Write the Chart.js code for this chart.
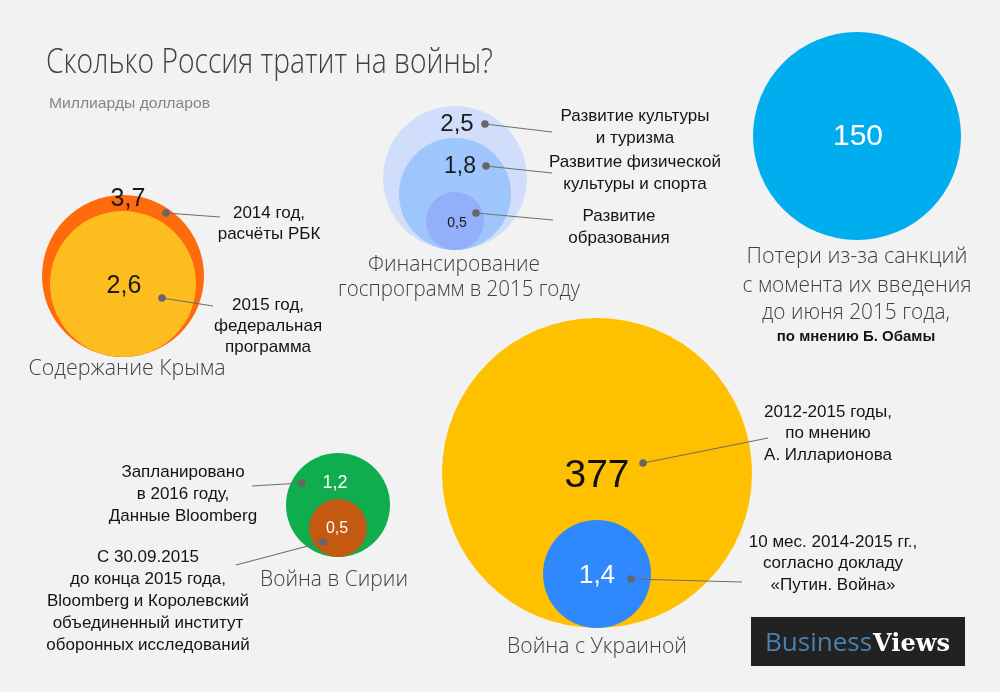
<!DOCTYPE html>
<html>
<head>
<meta charset="utf-8">
<script src="https://cdn.jsdelivr.net/npm/chart.js@4/dist/chart.umd.min.js"></script>
<style>
  html, body { margin: 0; padding: 0; background: #f2f2f2; }
  #wrap { width: 1000px; height: 692px; }
</style>
</head>
<body>
<div id="wrap"><canvas id="chart" width="1000" height="692"></canvas></div>
<script>
// billions of dollars
const crimeaValues = [3.7, 2.6];
const crimeaNotes = [["2014 год,", "расчёты РБК"], ["2015 год,", "федеральная", "программа"]];

const programValues = [2.5, 1.8, 0.5];
const programNotes = [["Развитие культуры", "и туризма"], ["Развитие физической", "культуры и спорта"], ["Развитие", "образования"]];

const sanctionsValues = [150];

const syriaValues = [1.2, 0.5];
const syriaNotes = [["Запланировано", "в 2016 году,", "Данные Bloomberg"],
  ["С 30.09.2015", "до конца 2015 года,", "Bloomberg и Королевский", "объединенный институт", "оборонных исследований"]];

const ukraineValues = [377, 1.4];
const ukraineNotes = [["2012-2015 годы,", "по мнению", "А. Илларионова"], ["10 мес. 2014-2015 гг.,", "согласно докладу", "«Путин. Война»"]];

const titleText = "Сколько Россия тратит на войны?";
const subtitleText = "Миллиарды долларов";

const lightFont = '"Open Sans"';
const labelFont = '"Liberation Sans", Arial';

// layout of each group: anchor (centre x, common bottom), radii, colours, label placement
const groups = [
  {
    values: crimeaValues, notes: crimeaNotes, cx: 123, bottom: 357, radii: [81, 73],
    colors: ["#ff6a0c", "#fdbd1f"], valueColor: ["#1a1a1a", "#1a1a1a"], valueSize: [25, 25],
    valueOff: [[5, -77], [1, 2]],
    dots: [[43, -63], [39, 14]], ends: [[220, 217], [213, 306]],
    noteAt: [[269, 213], [268, 305]], lh: 21,
    title: [["Содержание Крыма", 127, 369, 197]]
  },
  {
    values: programValues, notes: programNotes, cx: 455, bottom: 250, radii: [72, 56, 29],
    colors: ["#d0defc", "#9fc5fd", "#93aefb"], valueColor: ["#1a1a1a", "#1a1a1a", "#1a1a1a"], valueSize: [24, 23, 14],
    valueOff: [[2, -54], [5, -27], [2, 2]],
    dots: [[30, -54], [31, -28], [21, -8]], ends: [[552, 132], [552, 173], [553, 220]],
    noteAt: [[635, 116], [635, 162], [619, 216]], lh: 22,
    title: [["Финансирование", 454, 265, 172], ["госпрограмм в 2015 году", 459, 290, 242]]
  },
  {
    values: sanctionsValues, notes: [null], cx: 857, bottom: 240, radii: [104],
    colors: ["#00adee"], valueColor: ["#ffffff"], valueSize: [30],
    valueOff: [[1, 1]], dots: [null], ends: [null], noteAt: [null], lh: 0,
    title: [["Потери из-за санкций", 857, 257, 221], ["с момента их введения", 857, 286, 229], ["до июня 2015 года,", 856, 313, 188]]
  },
  {
    values: syriaValues, notes: syriaNotes, cx: 338, bottom: 557, radii: [52, 29],
    colors: ["#10ad4f", "#c45911"], valueColor: ["#ffffff", "#ffffff"], valueSize: [18, 16],
    valueOff: [[-3, -22], [-1, 1]],
    dots: [[-36, -22], [-15, 14]], ends: [[252, 486], [236, 565]],
    noteAt: [[183, 472], [148, 557]], lh: 22,
    title: [["Война в Сирии", 334, 580, 148]]
  },
  {
    values: ukraineValues, notes: ukraineNotes, cx: 597, bottom: 628, radii: [155, 54],
    colors: ["#ffc000", "#2f89fd"], valueColor: ["#111111", "#ffffff"], valueSize: [39, 26],
    valueOff: [[0, 3], [0, 2]],
    dots: [[46, -10], [34, 5]], ends: [[768, 438], [742, 582]],
    noteAt: [[828, 412], [833, 542]], lh: 21.5,
    title: [["Война с Украиной", 597, 647, 180]]
  }
];

const points = [];
const colors = [];
groups.forEach((g, gi) => {
  g.values.forEach((v, j) => {
    points.push({ x: g.cx, y: g.bottom - g.radii[j], r: g.radii[j], v: v, g: gi, j: j });
    colors.push(g.colors[j]);
  });
});

function fitText(ctx, text, x, y, width, align) {
  const w = ctx.measureText(text).width;
  const s = width ? width / w : 1;
  ctx.save();
  ctx.translate(x, y);
  ctx.scale(s, 1);
  ctx.textAlign = align || "center";
  ctx.fillText(text, 0, 0);
  ctx.restore();
}

const annotations = {
  id: "annotations",
  beforeDraw(chart) {
    const ctx = chart.ctx;
    ctx.save();
    ctx.fillStyle = "#f2f2f2";
    ctx.fillRect(0, 0, chart.width, chart.height);
    ctx.restore();
  },
  afterDatasetsDraw(chart) {
    const ctx = chart.ctx;
    const els = chart.getDatasetMeta(0).data;
    ctx.save();

    // heading
    ctx.fillStyle = "#404040";
    ctx.textBaseline = "alphabetic";
    ctx.font = "300 35px " + lightFont;
    fitText(ctx, titleText, 46, 73, 447, "left");
    ctx.fillStyle = "#858585";
    ctx.font = "15px " + labelFont;
    fitText(ctx, subtitleText, 49, 108, 161, "left");

    ctx.textBaseline = "middle";
    els.forEach((el, i) => {
      const p = points[i];
      const g = groups[p.g];
      // value inside the bubble
      ctx.fillStyle = g.valueColor[p.j];
      ctx.font = g.valueSize[p.j] + "px " + labelFont;
      ctx.textAlign = "center";
      ctx.fillText(String(p.v).replace(".", ","), el.x + g.valueOff[p.j][0], el.y + g.valueOff[p.j][1]);

      if (!g.dots[p.j]) return;
      const dx = el.x + g.dots[p.j][0];
      const dy = el.y + g.dots[p.j][1];
      ctx.strokeStyle = "#6e6e6e";
      ctx.lineWidth = 1.2;
      ctx.beginPath();
      ctx.moveTo(dx, dy);
      ctx.lineTo(g.ends[p.j][0], g.ends[p.j][1]);
      ctx.stroke();
      ctx.fillStyle = "#666666";
      ctx.beginPath();
      ctx.arc(dx, dy, 3.8, 0, Math.PI * 2);
      ctx.fill();

      ctx.fillStyle = "#141414";
      ctx.font = "17px " + labelFont;
      g.notes[p.j].forEach((line, k) => {
        ctx.fillText(line, g.noteAt[p.j][0], g.noteAt[p.j][1] + k * g.lh);
      });
    });

    // group captions
    ctx.fillStyle = "#404040";
    ctx.font = "300 22px " + lightFont;
    groups.forEach(g => {
      g.title.forEach(t => fitText(ctx, t[0], t[1], t[2], t[3], "center"));
    });
    ctx.fillStyle = "#141414";
    ctx.font = "bold 15px " + labelFont;
    ctx.textAlign = "center";
    ctx.fillText("по мнению Б. Обамы", 856, 337);

    // logo
    ctx.fillStyle = "#222222";
    ctx.fillRect(751, 617, 214, 49);
    ctx.textBaseline = "alphabetic";
    ctx.textAlign = "left";
    ctx.fillStyle = "#4a80b1";
    ctx.font = "26px " + lightFont;
    ctx.fillText("Business", 765, 651);
    const bw = ctx.measureText("Business").width;
    ctx.fillStyle = "#ffffff";
    ctx.font = "bold 24px \"DejaVu Serif\"";
    fitText(ctx, "Views", 765 + bw + 1, 651, 77, "left");

    ctx.restore();
  }
};

new Chart(document.getElementById("chart"), {
  type: "bubble",
  data: {
    datasets: [{
      data: points,
      backgroundColor: colors,
      borderWidth: 0,
      hoverBorderWidth: 0,
      clip: false
    }]
  },
  options: {
    responsive: false,
    animation: false,
    events: [],
    layout: { padding: 0, autoPadding: false },
    scales: {
      x: { type: "linear", min: 0, max: 1000, display: false },
      y: { type: "linear", min: 0, max: 692, reverse: true, display: false }
    },
    plugins: {
      legend: { display: false },
      tooltip: { enabled: false }
    }
  },
  plugins: [annotations]
});
</script>
</body>
</html>
